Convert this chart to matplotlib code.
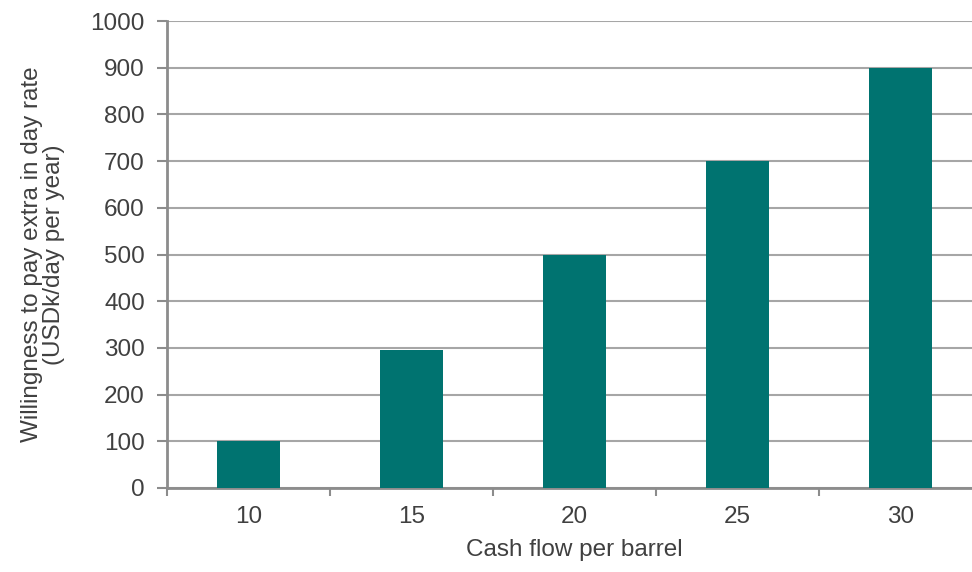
import matplotlib
matplotlib.use("Agg")
import matplotlib.pyplot as plt
import numpy as np

categories = ["10", "15", "20", "25", "30"]
values = [100, 295, 500, 700, 900]

plt.rcParams['font.family'] = ['Liberation Sans', 'DejaVu Sans']
text_color = '#404040'
fs = 17.5

fig = plt.figure(figsize=(9.72, 5.72), dpi=100)
ax = fig.add_axes([167/972, 1-488/572, 815/972, (488-21)/572])

x = np.arange(len(categories))
ax.bar(x, values, width=0.39, color='#007370', zorder=3)

ax.set_xlim(-0.5, len(categories)-0.5)
ax.set_ylim(0, 1000)
ax.set_yticks(np.arange(0, 1001, 100))
ax.yaxis.grid(True, color='#a6a6a6', linewidth=1.5, zorder=0)
ax.set_axisbelow(True)

ax.set_xticks(x)
ax.set_xticklabels(categories)
ax.set_xticks(np.arange(-0.5, len(categories), 1), minor=True)
ax.tick_params(axis='x', which='major', length=0, pad=13, labelsize=fs, colors=text_color)
ax.tick_params(axis='x', which='minor', length=6, width=1.5, color='#8c8c8c', direction='out')
ax.tick_params(axis='y', length=7, width=1.5, color='#8c8c8c', labelsize=fs, labelcolor=text_color, pad=9)

for s in ['top', 'right']:
    ax.spines[s].set_visible(False)
for s in ['left', 'bottom']:
    ax.spines[s].set_color('#8c8c8c')
    ax.spines[s].set_linewidth(2)

ax.set_xlabel("Cash flow per barrel", fontsize=fs, color=text_color, labelpad=8)
ax.set_ylabel("Willingness to pay extra in day rate\n(USDk/day per year)", fontsize=fs,
              color=text_color, labelpad=18, linespacing=1.02)

fig.savefig("out.png", dpi=100)
